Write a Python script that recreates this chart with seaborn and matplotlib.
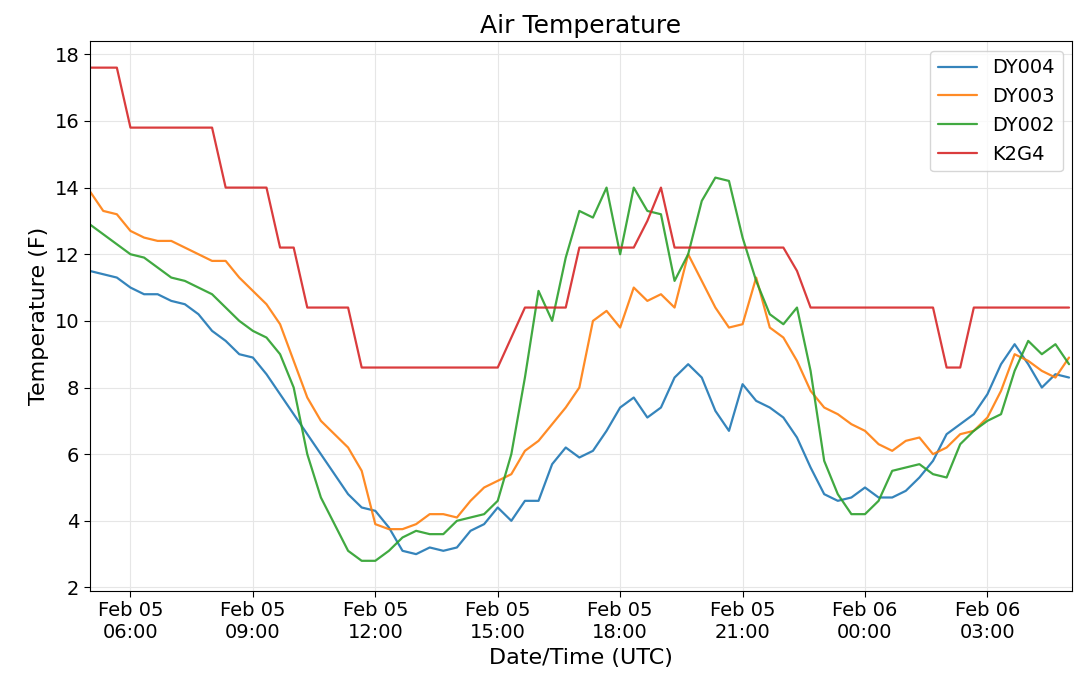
import seaborn as sns
import matplotlib.pyplot as plt
import matplotlib.dates as mdates
import pandas as pd

times = pd.date_range('2020-02-05 05:00', periods=73, freq='20min')

dy004 = [11.5, 11.4, 11.3, 11.0, 10.8, 10.8, 10.6, 10.5, 10.2, 9.7, 9.4, 9.0, 8.9, 8.4, 7.8, 7.2,
         6.6, 6.0, 5.4, 4.8, 4.4, 4.3, 3.8, 3.1, 3.0, 3.2, 3.1, 3.2, 3.7, 3.9, 4.4, 4.0, 4.6, 4.6,
         5.7, 6.2, 5.9, 6.1, 6.7, 7.4, 7.7, 7.1, 7.4, 8.3, 8.7, 8.3, 7.3, 6.7, 8.1, 7.6, 7.4, 7.1,
         6.5, 5.6, 4.8, 4.6, 4.7, 5.0, 4.7, 4.7, 4.9, 5.3, 5.8, 6.6, 6.9, 7.2, 7.8, 8.7, 9.3, 8.7,
         8.0, 8.4, 8.3]
dy003 = [13.9, 13.3, 13.2, 12.7, 12.5, 12.4, 12.4, 12.2, 12.0, 11.8, 11.8, 11.3, 10.9, 10.5, 9.9,
         8.8, 7.7, 7.0, 6.6, 6.2, 5.5, 3.9, 3.75, 3.75, 3.9, 4.2, 4.2, 4.1, 4.6, 5.0, 5.2, 5.4, 6.1,
         6.4, 6.9, 7.4, 8.0, 10.0, 10.3, 9.8, 11.0, 10.6, 10.8, 10.4, 12.0, 11.2, 10.4, 9.8, 9.9,
         11.3, 9.8, 9.5, 8.8, 7.9, 7.4, 7.2, 6.9, 6.7, 6.3, 6.1, 6.4, 6.5, 6.0, 6.2, 6.6, 6.7, 7.1,
         7.9, 9.0, 8.8, 8.5, 8.3, 8.9]
dy002 = [12.9, 12.6, 12.3, 12.0, 11.9, 11.6, 11.3, 11.2, 11.0, 10.8, 10.4, 10.0, 9.7, 9.5, 9.0,
         8.0, 6.0, 4.7, 3.9, 3.1, 2.8, 2.8, 3.1, 3.5, 3.7, 3.6, 3.6, 4.0, 4.1, 4.2, 4.6, 6.0, 8.3,
         10.9, 10.0, 11.9, 13.3, 13.1, 14.0, 12.0, 14.0, 13.3, 13.2, 11.2, 12.0, 13.6, 14.3, 14.2,
         12.5, 11.2, 10.2, 9.9, 10.4, 8.5, 5.8, 4.8, 4.2, 4.2, 4.6, 5.5, 5.6, 5.7, 5.4, 5.3, 6.3,
         6.7, 7.0, 7.2, 8.5, 9.4, 9.0, 9.3, 8.7]
k2g4 = [17.6, 17.6, 17.6, 15.8, 15.8, 15.8, 15.8, 15.8, 15.8, 15.8, 14.0, 14.0, 14.0, 14.0, 12.2,
        12.2, 10.4, 10.4, 10.4, 10.4, 8.6, 8.6, 8.6, 8.6, 8.6, 8.6, 8.6, 8.6, 8.6, 8.6, 8.6, 9.5,
        10.4, 10.4, 10.4, 10.4, 12.2, 12.2, 12.2, 12.2, 12.2, 13.0, 14.0, 12.2, 12.2, 12.2, 12.2,
        12.2, 12.2, 12.2, 12.2, 12.2, 11.5, 10.4, 10.4, 10.4, 10.4, 10.4, 10.4, 10.4, 10.4, 10.4,
        10.4, 8.6, 8.6, 10.4, 10.4, 10.4, 10.4, 10.4, 10.4, 10.4, 10.4]

series = {'DY004': dy004, 'DY003': dy003, 'DY002': dy002, 'K2G4': k2g4}

sns.set_style('white')
plt.rcParams['font.family'] = ['DejaVu Sans']
plt.rcParams['text.color'] = 'black'
plt.rcParams['axes.labelcolor'] = 'black'
plt.rcParams['xtick.color'] = 'black'
plt.rcParams['ytick.color'] = 'black'
fig, ax = plt.subplots(figsize=(10.8, 6.83), dpi=100)
colors = sns.color_palette('tab10')
for c, (name, vals) in zip(colors, series.items()):
    sns.lineplot(x=times, y=vals, ax=ax, label=name, color=c, linewidth=1.6, alpha=0.9)

ax.set_xlim(pd.Timestamp('2020-02-05 05:00'), pd.Timestamp('2020-02-06 05:05'))
ax.set_ylim(1.9, 18.4)
ax.set_yticks(range(2, 19, 2))
ax.xaxis.set_major_locator(mdates.HourLocator(byhour=[0, 3, 6, 9, 12, 15, 18, 21]))
ax.xaxis.set_major_formatter(mdates.DateFormatter('%b %d\n%H:%M'))
ax.grid(True, color='#e6e6e6')
ax.tick_params(labelsize=14, length=4, direction='out', bottom=True, left=True)
for s in ax.spines.values():
    s.set_color('black')
    s.set_linewidth(0.8)
ax.set_title('Air Temperature', fontsize=18)
ax.set_xlabel('Date/Time (UTC)', fontsize=16)
ax.set_ylabel('Temperature (F)', fontsize=16)
ax.legend(loc='upper right', fontsize=14)
plt.subplots_adjust(left=0.083, right=0.993, top=0.94, bottom=0.135)
plt.savefig('out.png')
